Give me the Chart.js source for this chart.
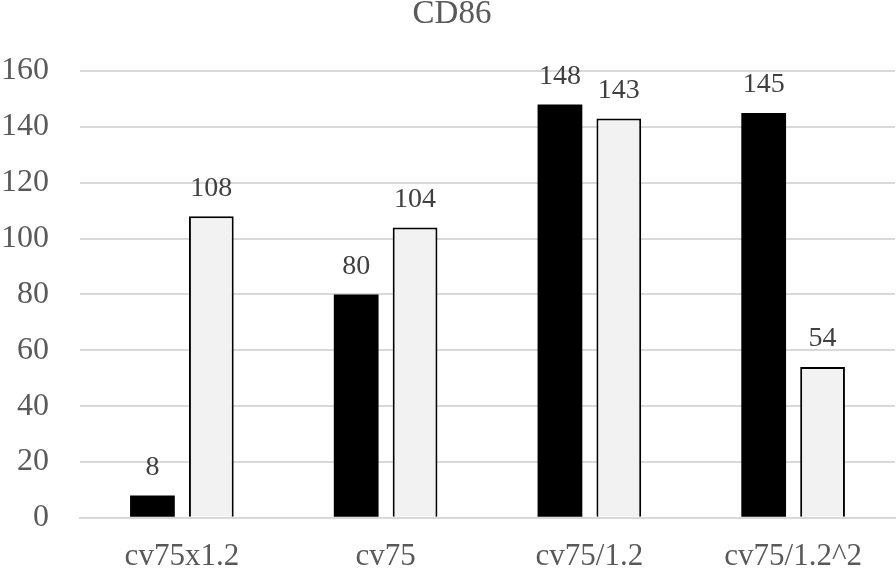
<!DOCTYPE html>
<html>
<head>
<meta charset="utf-8">
<script src="https://cdn.jsdelivr.net/npm/chart.js@4/dist/chart.umd.min.js"></script>
<style>
  html, body { margin: 0; padding: 0; background: #fff; }
  #wrap { width: 896px; height: 569px; }
</style>
</head>
<body>
<div id="wrap"><canvas id="chart"></canvas></div>
<script>
const categories = ["cv75x1.2", "cv75", "cv75/1.2", "cv75/1.2^2"];
const seriesA = [8, 80, 148, 145];
const seriesB = [108, 104, 143, 54];
const yTicks = [0, 20, 40, 60, 80, 100, 120, 140, 160];

const FONT = "'Liberation Serif', 'Times New Roman', serif";

// value labels above each bar, plus the title over the plot centre
const barLabels = {
  id: 'barLabels',
  afterDatasetsDraw(chart) {
    const ctx = chart.ctx;
    ctx.save();
    ctx.font = '28px ' + FONT;
    ctx.fillStyle = '#404040';
    ctx.textAlign = 'center';
    ctx.textBaseline = 'bottom';
    chart.data.datasets.forEach((ds, i) => {
      chart.getDatasetMeta(i).data.forEach((bar, j) => {
        ctx.fillText(ds.data[j], bar.x, bar.y - 14);
      });
    });
    ctx.font = '33px ' + FONT;
    ctx.fillStyle = '#595959';
    ctx.textBaseline = 'middle';
    ctx.fillText('CD86', 452, 14);
    ctx.restore();
  }
};

new Chart(document.getElementById('chart').getContext('2d'), {
  type: 'bar',
  data: {
    labels: categories,
    datasets: [{
      data: seriesA,
      backgroundColor: '#000000',
      borderColor: '#000000',
      borderWidth: 0
    }, {
      data: seriesB,
      backgroundColor: '#f2f2f2',
      borderColor: '#000000',
      borderWidth: 2
    }]
  },
  options: {
    responsive: true,
    maintainAspectRatio: false,
    animation: false,
    categoryPercentage: 0.578,
    barPercentage: 0.76,
    layout: { padding: { left: -30, right: 1, top: 71, bottom: -18 } },
    scales: {
      x: {
        grid: { display: false },
        border: { display: true, color: '#d9d9d9', width: 2 },
        ticks: { color: '#595959', font: { family: FONT, size: 31 }, padding: 12, maxRotation: 0 }
      },
      y: {
        min: 0,
        max: 160,
        afterBuildTicks: (axis) => { axis.ticks = yTicks.map(v => ({ value: v })); },
        grid: { color: '#d9d9d9', lineWidth: 2, drawTicks: false },
        border: { display: false },
        ticks: { color: '#595959', font: { family: FONT, size: 32 }, padding: 31 }
      }
    },
    plugins: {
      legend: { display: false },
      tooltip: { enabled: false },
      title: { display: false }
    }
  },
  plugins: [barLabels]
});
</script>
</body>
</html>
